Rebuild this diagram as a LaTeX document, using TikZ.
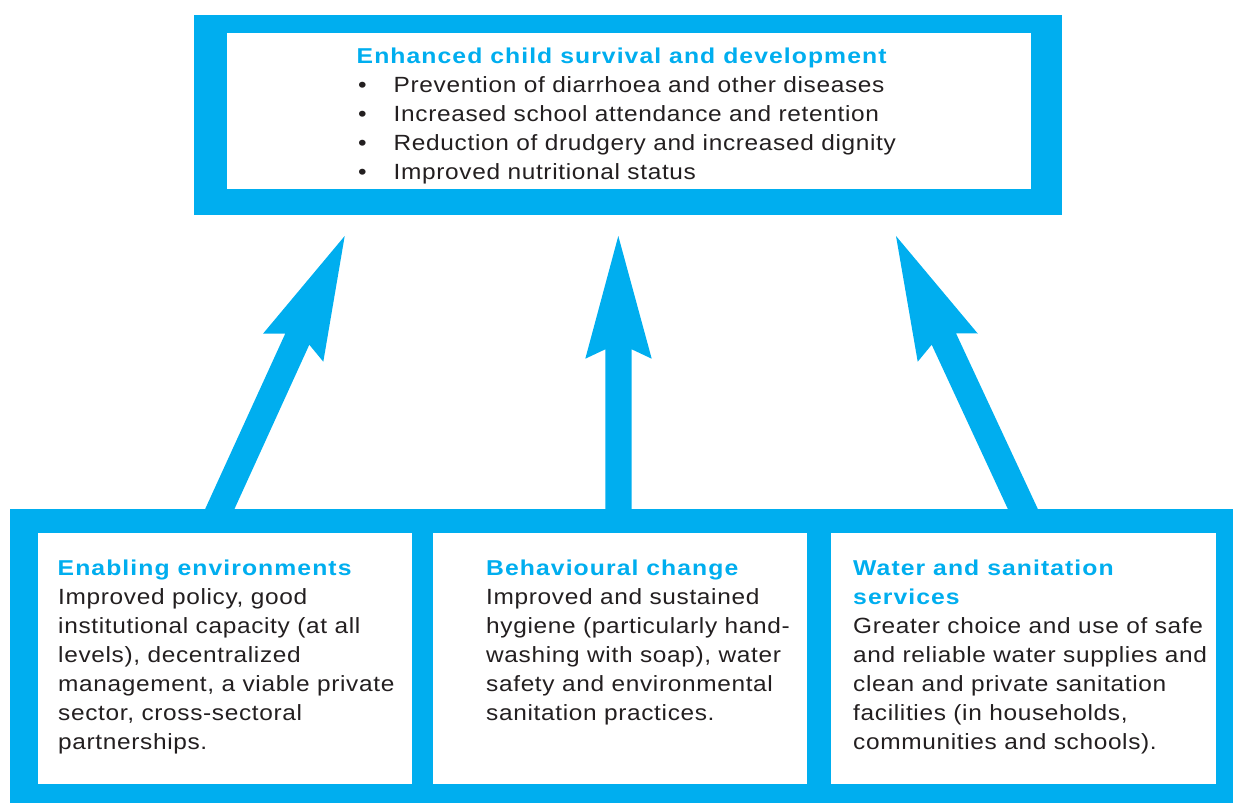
\documentclass[tikz,border=0pt]{standalone}
\usepackage{fontspec}
\setmainfont{Liberation Sans}
\newfontfamily\bodyfont{Liberation Sans}[FakeStretch=1.11, LetterSpace=3]
\newfontfamily\headfont{Liberation Sans}[FakeStretch=1.15, LetterSpace=5]
\definecolor{ublue}{HTML}{00AEEF}
\definecolor{utext}{HTML}{231F20}
\tikzset{
  panel/.style={fill=ublue, draw=none, inner sep=0, anchor=north west},
  inbox/.style={fill=white, draw=none, inner sep=0, anchor=north west},
  body/.style={anchor=base west, inner sep=0, text=utext, font=\bodyfont\fontsize{22}{29}\selectfont},
  head/.style={anchor=base west, inner sep=0, text=ublue, font=\headfont\bfseries\fontsize{21.5}{29}\selectfont},
  bigarrow/.style={fill=ublue, draw=none}
}
\begin{document}
\begin{tikzpicture}[x=1pt,y=-1pt]
\useasboundingbox (0,0) rectangle (1233,803);
% top box
\node[panel, minimum width=868.3pt, minimum height=199.7pt] (top) at (193.7,15) {};
\node[inbox, minimum width=804pt, minimum height=156.3pt] (topin) at (227,32.7) {};
% bottom box
\node[panel, minimum width=1223pt, minimum height=294.5pt] (bot) at (10,508.5) {};
\node[inbox, minimum width=374pt, minimum height=251pt] (b1) at (38,533) {};
\node[inbox, minimum width=374pt, minimum height=251pt] (b2) at (433,533) {};
\node[inbox, minimum width=385pt, minimum height=251pt] (b3) at (831,533) {};
% arrows
\coordinate (lt) at (344.7,236);
\coordinate (mt) at (618.3,236);
\coordinate (rt) at (896,236);
\fill[bigarrow] (204.7,510) -- (285.3,333.5) -- (263,333.7) -- (lt) -- (323.3,361.7) -- (309.3,344.7) -- (234,510) -- cycle;
\fill[bigarrow] (605.3,510) -- (605.3,349.3) -- (585.3,358.7) -- (mt) -- (651.7,358.7) -- (631.7,349.3) -- (631.7,510) -- cycle;
\fill[bigarrow] (1008.3,510) -- (931.7,344.7) -- (917.7,361.7) -- (rt) -- (977.7,333.5) -- (956,333.3) -- (1038.3,510) -- cycle;
% top text
\node[head] (t0) at (356.5,63.7) {Enhanced child survival and development};
\node[body] (tb1) at (358,92.7) {•};
\node[body] (tb2) at (358,121.7) {•};
\node[body] (tb3) at (358,150.7) {•};
\node[body] (tb4) at (358,179.7) {•};
\node[body] (t1) at (393.5,92.7) {Prevention of diarrhoea and other diseases};
\node[body] (t2) at (393.5,121.7) {Increased school attendance and retention};
\node[body] (t3) at (393.5,150.7) {Reduction of drudgery and increased dignity};
\node[body] (t4) at (393.5,179.7) {Improved nutritional status};
% box 1
\node[head] (h1) at (57.5,575.7) {Enabling environments};
\node[body] (a1) at (58,604.3) {Improved policy, good};
\node[body] (a2) at (58,633.3) {institutional capacity (at all};
\node[body] (a3) at (58,662.3) {levels), decentralized};
\node[body] (a4) at (58,691.3) {management, a viable private};
\node[body] (a5) at (58,720.3) {sector, cross-sectoral};
\node[body] (a6) at (58,749.3) {partnerships.};
% box 2
\node[head] (h2) at (486,575.7) {Behavioural change};
\node[body] (c1) at (486,604.3) {Improved and sustained};
\node[body] (c2) at (486,633.3) {hygiene (particularly hand-};
\node[body] (c3) at (486,662.3) {washing with soap), water};
\node[body] (c4) at (486,691.3) {safety and environmental};
\node[body] (c5) at (486,720.3) {sanitation practices.};
% box 3
\node[head] (h3a) at (853,575.7) {Water and sanitation};
\node[head] (h3b) at (853,604.3) {services};
\node[body] (d1) at (853,633.3) {Greater choice and use of safe};
\node[body] (d2) at (853,662.3) {and reliable water supplies and};
\node[body] (d3) at (853,691.3) {clean and private sanitation};
\node[body] (d4) at (853,720.3) {facilities (in households,};
\node[body] (d5) at (853,749.3) {communities and schools).};
\end{tikzpicture}
\end{document}
